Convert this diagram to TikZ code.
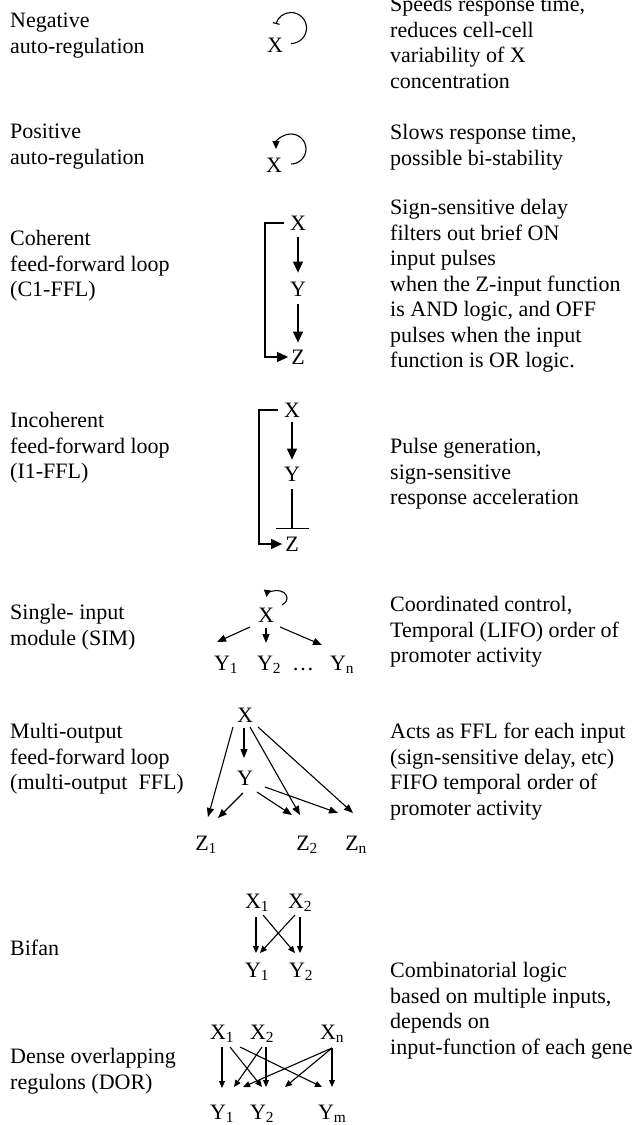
\documentclass[tikz,border=0pt]{standalone}
\usepackage{fontspec}
\setmainfont{Liberation Serif}
\usetikzlibrary{arrows.meta,calc}
\begin{document}
\begin{tikzpicture}[x=1bp,y=-1bp,
  txt/.style={anchor=north west, yshift=17.85bp, align=left, inner sep=0pt,
    font=\fontsize{22bp}{25.5bp}\selectfont, execute at begin node=\strut},
  lab/.style={inner sep=0pt, text height=14.4bp, text depth=0pt,
    font=\fontsize{22bp}{25.5bp}\selectfont},
  ln/.style={line width=1.1bp},
  big/.style={ln, -{Triangle[length=11bp,width=10bp]}},
  sm/.style={ln, -{Triangle[length=9bp,width=7bp]}},
  tiny/.style={ln, -{Triangle[length=7bp,width=6bp]}}]
\useasboundingbox (0,0) rectangle (636,1125);

% ---------- left labels ----------
\node[txt] (tNeg) at (10,31) {Negative\\auto-regulation};
\node[txt] (tPos) at (10,142) {Positive\\auto-regulation};
\node[txt] (tCoh) at (10,248) {Coherent\\feed-forward loop\\(C1-FFL)};
\node[txt] (tInc) at (10,430) {Incoherent\\feed-forward loop\\(I1-FFL)};
\node[txt] (tSim) at (10,622) {Single- input\\module (SIM)};
\node[txt] (tMul) at (10,741) {Multi-output\\feed-forward loop\\(multi-output~~FFL)};
\node[txt] (tBif) at (10,955) {Bifan};
\node[txt] (tDor) at (10,1066) {Dense overlapping\\regulons (DOR)};

% ---------- right descriptions ----------
\node[txt] (dNeg) at (390,14) {Speeds response time,\\reduces cell-cell\\variability of X\\concentration};
\node[txt] (dPos) at (390,142) {Slows response time,\\possible bi-stability};
\node[txt] (dCoh) at (390,217) {Sign-sensitive delay\\filters out brief ON\\input pulses\\when the Z-input function\\is AND logic, and OFF\\pulses when the input\\function is OR logic.};
\node[txt] (dInc) at (390,456) {Pulse generation,\\sign-sensitive\\response acceleration};
\node[txt] (dSim) at (390,614) {Coordinated control,\\Temporal (LIFO) order of\\promoter activity};
\node[txt] (dMul) at (390,741) {Acts as FFL for each input\\(sign-sensitive delay, etc)\\FIFO temporal order of\\promoter activity};
\node[txt] (dDor) at (390,980) {Combinatorial logic\\based on multiple inputs,\\depends on\\input-function of each gene};

% ---------- negative auto-regulation ----------
\node[lab] (nX) at (275,45) {X};
\begin{scope}[shift={(nX)}]
\draw[ln, -{Bar[width=7bp]}] (16,-1.5) .. controls (24.56,-1.5) and (31.5,-8.44) .. (31.5,-17)
  .. controls (31.5,-25.56) and (24.56,-32.5) .. (16,-32.5)
  .. controls (8.99,-32.5) and (2.84,-27.77) .. (1.03,-21);
\end{scope}

% ---------- positive auto-regulation ----------
\node[lab] (pX) at (274,165) {X};
\begin{scope}[shift={(pX)}]
\draw[ln, -{Triangle[length=8bp,width=7bp]}] (17,-1) .. controls (25.28,-1) and (32,-7.72) .. (32,-16)
  .. controls (32,-24.28) and (25.28,-31) .. (17,-31)
  .. controls (8.72,-31) and (2,-24.28) .. (2,-16);
\end{scope}

% ---------- C1-FFL ----------
\node[lab] (cX) at (298,223) {X};
\node[lab] (cY) at (298,289) {Y};
\node[lab] (cZ) at (298,357) {Z};
\coordinate (cB) at (265,0);
\draw[big, shorten <=7bp, shorten >=9bp] (cX) -- (cY);
\draw[big, shorten <=8bp, shorten >=7bp] (cY) -- (cZ);
\draw[big, shorten <=6bp, shorten >=3bp] (cX.west) -- (cX.west -| cB) |- (cZ.west);

% ---------- I1-FFL ----------
\node[lab] (iX) at (292,410) {X};
\node[lab] (iY) at (292,474) {Y};
\node[lab] (iZ) at (292,544) {Z};
\coordinate (iB) at (259,0);
\draw[big, shorten <=5bp, shorten >=7bp] (iX) -- (iY);
\draw[ln, -{Bar[width=33bp]}, shorten <=8bp, shorten >=8bp] (iY) -- (iZ);
\draw[big, shorten <=6bp, shorten >=3bp] (iX.west) -- (iX.west -| iB) |- (iZ.west);

% ---------- SIM ----------
\node[lab] (sX) at (266,615) {X};
\node[lab] (sY1) at (222,663) {Y\rlap{\textsubscript{1}}};
\node[lab] (sY2) at (265,663) {Y\rlap{\textsubscript{2}}};
\node[lab, anchor=base] (sDots) at (303,670) {\dots};
\node[lab] (sYn) at (338,663) {Y\rlap{\textsubscript{n}}};
\begin{scope}[shift={(sX)}]
\draw[ln, -{Triangle[length=7bp,width=7bp]}] (16,-10) .. controls (18.5,-11.5) and (21,-13.5) .. (21,-17)
  .. controls (21,-21) and (16.5,-24.5) .. (11,-24.5)
  .. controls (6,-24.5) and (1,-21.5) .. (0.5,-18);
\end{scope}
\draw[sm] ($(sX)+(-16,12)$) -- ($(sY1)+(-5,-21)$);
\draw[sm] ($(sX)+(0,13)$) -- ($(sY2)+(1,-20)$);
\draw[sm] ($(sX)+(14,12)$) -- ($(sYn)+(-16,-18)$);

% ---------- multi-output FFL ----------
\node[lab] (mX) at (245,715) {X};
\node[lab] (mY) at (245,778) {Y};
\node[lab] (mZ1) at (202,843) {Z\rlap{\textsubscript{1}}};
\node[lab] (mZ2) at (303,843) {Z\rlap{\textsubscript{2}}};
\node[lab] (mZn) at (352,843) {Z\rlap{\textsubscript{n}}};
\draw[sm] ($(mX)+(-1,13)$) -- ($(mY)+(-1,-20)$);
\draw[sm] ($(mX)+(-12,12)$) -- ($(mZ1)+(6,-26)$);
\draw[sm] ($(mY)+(-2,15)$) -- ($(mZ1)+(16,-25)$);
\draw[sm] ($(mX)+(5,12)$) -- ($(mZ2)+(-3,-28)$);
\draw[sm] ($(mY)+(12,14)$) -- ($(mZ2)+(-11,-28)$);
\draw[sm] ($(mX)+(13,12)$) -- ($(mZn)+(1,-30)$);
\draw[sm] ($(mY)+(20,9)$) -- ($(mZn)+(-14,-30)$);

% ---------- bifan ----------
\node[lab] (bX1) at (253,901) {X\rlap{\textsubscript{1}}};
\node[lab] (bX2) at (296,901) {X\rlap{\textsubscript{2}}};
\node[lab] (bY1) at (253,970) {Y\rlap{\textsubscript{1}}};
\node[lab] (bY2) at (297,970) {Y\rlap{\textsubscript{2}}};
\draw[tiny] ($(bX1)+(3,16)$) -- ($(bY1)+(3,-17)$);
\draw[tiny] ($(bX2)+(4,16)$) -- ($(bY2)+(3,-17)$);
\draw[tiny] ($(bX1)+(10,14)$) -- ($(bY2)+(-2,-17)$);
\draw[tiny] ($(bX2)+(-1,14)$) -- ($(bY1)+(7,-17)$);

% ---------- DOR ----------
\node[lab] (dX1) at (218,1032) {X\rlap{\textsubscript{1}}};
\node[lab] (dX2) at (258,1032) {X\rlap{\textsubscript{2}}};
\node[lab] (dXn) at (328,1032) {X\rlap{\textsubscript{n}}};
\node[lab] (dY1) at (218,1112) {Y\rlap{\textsubscript{1}}};
\node[lab] (dY2) at (258,1112) {Y\rlap{\textsubscript{2}}};
\node[lab] (dYm) at (326,1112) {Y\rlap{\textsubscript{m}}};
\draw[tiny] ($(dX1)+(4,15)$) -- ($(dY1)+(4,-24)$);
\draw[tiny] ($(dX1)+(12,15)$) -- ($(dY2)+(4,-25)$);
\draw[tiny] ($(dX1)+(22,15)$) -- ($(dYm)+(-4,-25)$);
\draw[tiny] ($(dX2)+(4,15)$) -- ($(dY1)+(16,-25)$);
\draw[tiny] ($(dX2)+(8,15)$) -- ($(dY2)+(8,-25)$);
\draw[tiny] ($(dXn)+(4,16)$) -- ($(dY1)+(25,-25)$);
\draw[tiny] ($(dXn)+(4,16)$) -- ($(dY2)+(27,-25)$);
\draw[tiny] ($(dXn)+(4,16)$) -- ($(dYm)+(6,-25)$);
\end{tikzpicture}
\end{document}
